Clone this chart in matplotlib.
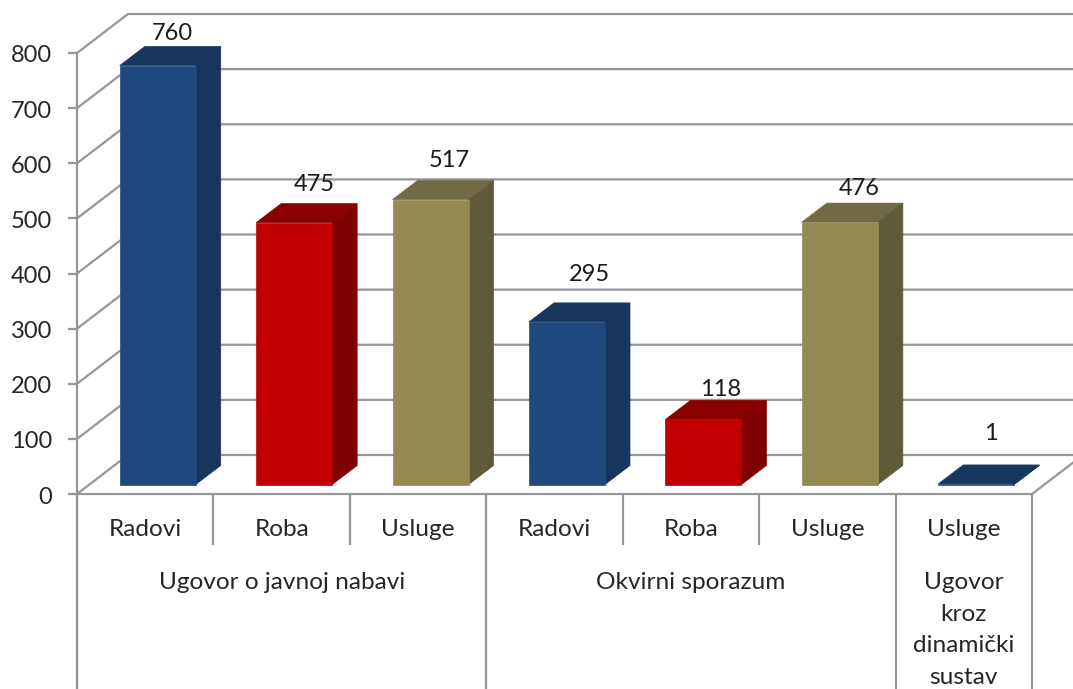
import matplotlib
matplotlib.use('Agg')
import matplotlib.pyplot as plt
from matplotlib.patches import Polygon

categories = ['Radovi', 'Roba', 'Usluge', 'Radovi', 'Roba', 'Usluge', 'Usluge']
values = [760, 475, 517, 295, 118, 476, 1]
kinds = ['blue', 'red', 'olive', 'blue', 'red', 'olive', 'blue']
groups = ['Ugovor o javnoj nabavi', 'Okvirni sporazum', 'Ugovor\nkroz\ndinamički\nsustav']
group_starts = [0, 3, 6, 7]
y_ticks = [0, 100, 200, 300, 400, 500, 600, 700, 800]

# front, side, top
colors = {
    'blue': ('#1F497D', '#17365D', '#17365D'),
    'red': ('#C00000', '#7F0000', '#8B0000'),
    'olive': ('#948A54', '#5F5A38', '#716B45'),
}

# les etiquettes sont placees a la main dans l'original (pixels depuis le haut de la face avant)
label_dx = [15, 20, 19, 22, 17, 19, 15]
label_dy = [32, 38, 39, 47, 30, 34, 50]

plt.rcParams['font.family'] = ['Lato', 'DejaVu Sans']
grid_color = '#969696'
text_color = '#262626'

fig = plt.figure(figsize=(10.73, 6.89), dpi=100)
ax = fig.add_axes([0, 0, 1, 1])

# echelle : x en categories, y en valeurs
px_x = 955 / 7
px_y = 441 / 800
ax.set_xlim(-77 / px_x, (1073 - 77) / px_x)
ax.set_ylim((494 - 689) / px_y, 494 / px_y)
ax.axis('off')

wall_dx = 51 / px_x
wall_dy = 39 / px_y
bar_w = 76 / px_x
bar_dx = 25 / px_x
bar_dy = 19 / px_y
front_dx = 12.5 / px_x
front_dy = 9.5 / px_y
tick_len = 9 / px_x
right = (1073 - 77) / px_x

line = dict(color=grid_color, lw=1.6, solid_capstyle='butt', zorder=1)

# grille et parois
for v in y_ticks:
    ax.plot([0, wall_dx, right], [v, v + wall_dy, v + wall_dy], **line)
    ax.plot([-tick_len, 0], [v, v], **line)
    ax.text(-25 / px_x, v - 3 / px_y, str(v), ha='right', va='center', fontsize=17, color=text_color)
ax.plot([0, 7], [0, 0], **line)
ax.plot([7, 7 + wall_dx], [0, wall_dy], **line)
ax.plot([0, 0], [800, ax.get_ylim()[0]], **line)

# separateurs sous l'axe
bottom = ax.get_ylim()[0]
for i in range(8):
    if i in group_starts:
        ax.plot([i, i], [0, bottom], **line)
    else:
        ax.plot([i, i], [0, -51 / px_y], **line)

# barres
for i, v in enumerate(values):
    front, side, top = colors[kinds[i]]
    x0 = i + 0.5 + front_dx - bar_w / 2
    x1 = x0 + bar_w
    y0 = front_dy
    y1 = front_dy + v
    ax.add_patch(Polygon([(x0, y1), (x1, y1), (x1 + bar_dx, y1 + bar_dy), (x0 + bar_dx, y1 + bar_dy)],
                         fc=top, ec=top, lw=0.5, zorder=3))
    ax.add_patch(Polygon([(x1, y0), (x1 + bar_dx, y0 + bar_dy), (x1 + bar_dx, y1 + bar_dy), (x1, y1)],
                         fc=side, ec=side, lw=0.5, zorder=3))
    ax.add_patch(Polygon([(x0, y0), (x1, y0), (x1, y1), (x0, y1)],
                         fc=front, ec=front, lw=0.5, zorder=4))
    ax.annotate(str(v), xy=((x0 + x1) / 2, y1), xytext=(label_dx[i], label_dy[i]),
                textcoords='offset pixels', ha='center', va='center',
                fontsize=17, color='#1a1a1a', zorder=5)

# libelles
for i, name in enumerate(categories):
    ax.text(i + 0.5, -35 / px_y, name, ha='center', va='center', fontsize=17.6, color=text_color)
for g, name in enumerate(groups):
    mid = (group_starts[g] + group_starts[g + 1]) / 2
    ax.text(mid, -78 / px_y, name, ha='center', va='top', fontsize=17.6, color=text_color, linespacing=1.63)

fig.savefig('out.png', dpi=100)
